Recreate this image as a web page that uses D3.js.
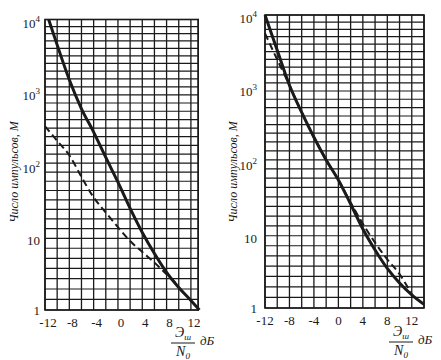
<!DOCTYPE html>
<html><head><meta charset="utf-8">
<script src="https://cdn.jsdelivr.net/npm/d3@7"></script>
<style>body{margin:0;background:#fff} svg{display:block}</style>
</head><body><svg id="c" width="441" height="360"></svg>
<script>
// ---- data ----
const xTicks = [-12, -8, -4, 0, 4, 8, 12];
const yTicks = [1, 10, 100, 1000, 10000];
const gridDb = [-12, -10, -8, -6, -4, -2, 0, 2, 4, 6, 8, 10, 12];

const leftSolidDb = [-11.4, -10, -8, -6, -4, -2, 0, 2, 4, 6, 8, 10, 12, 13.4];
const leftSolidN  = [10000, 4470, 1480, 590, 282, 126, 57.5, 25.1, 11.7, 6.0, 3.3, 2.04, 1.35, 1.0];
const leftDashDb  = [-12, -10, -8, -6, -4, -2, 0, 2, 4, 6, 8, 9.5];
const leftDashN   = [339, 214, 135, 68, 35.5, 22, 13.8, 8.9, 6.3, 4.5, 3.1, 2.35];

const rightSolidDb = [-12, -10, -8, -6, -4, -2, 0, 2, 4, 6, 8, 10, 12, 14];
const rightSolidN  = [10000, 3310, 1100, 468, 214, 105, 56, 26.3, 12.0, 6.2, 3.47, 2.19, 1.51, 1.12];
const rightDashDb  = [-12, -10, -8, -6, -4, -2, 0, 2, 4, 6, 8, 10, 11, 12];
const rightDashN   = [5620, 2450, 1100, 468, 214, 105, 56, 27.5, 14.1, 7.8, 4.6, 2.9, 2.14, 1.55];

const yTitle = "Число импульсов, М";
const xUnit = "дБ";
const gridRows = 33, gridGrowth = 1.5;

// ---- layout ----
const panels = [
  {xr:[45,198.2], xMax:13.2, yr:[310,19.5], solid:[leftSolidDb,leftSolidN], dash:[leftDashDb,leftDashN],
   lblGap:5, xLblDx:3, xLblY:327, titleX:14, fracX:183, fracY:343, unitX:200},
  {xr:[265,424], xMax:14, yr:[308,15], solid:[rightSolidDb,rightSolidN], dash:[rightDashDb,rightDashN],
   lblGap:8, xLblDx:0, xLblY:325, titleX:233, fracX:401, fracY:342, unitX:418}
];

const svg = d3.select("#c");
const ink = "#1a1a1a";
const serif = "'Liberation Serif','DejaVu Serif',serif";

panels.forEach(p => {
  const x = d3.scaleLinear().domain([-12, p.xMax]).range(p.xr);
  const y = d3.scaleLog().domain([1, 10000]).range(p.yr);
  const g = svg.append("g");
  const [xa, xb] = x.range(), [yb, ya] = y.range();

  // vertical grid
  g.selectAll("line.v").data(gridDb.concat([p.xMax])).join("line")
    .attr("x1", d => x(d)).attr("x2", d => x(d)).attr("y1", ya).attr("y2", yb)
    .attr("stroke", ink).attr("stroke-width", 1.3);
  // horizontal grid (spacing of the printed paper grows downward)
  const steps = d3.range(gridRows).map(k => 1 + (gridGrowth - 1) * k / (gridRows - 1));
  const tot = d3.sum(steps);
  let acc = 0; const fr = [0];
  steps.forEach(s => { acc += s; fr.push(acc / tot); });
  g.selectAll("line.h").data(fr).join("line")
    .attr("x1", xa).attr("x2", xb)
    .attr("y1", f => ya + f * (yb - ya)).attr("y2", f => ya + f * (yb - ya))
    .attr("stroke", ink).attr("stroke-width", 1.2);
  // border
  g.append("rect").attr("x", xa).attr("y", ya).attr("width", xb - xa).attr("height", yb - ya)
    .attr("fill", "none").attr("stroke", ink).attr("stroke-width", 1.6);

  const line = d3.line().x(d => x(d[0])).y(d => y(d[1])).curve(d3.curveMonotoneX);
  g.append("path").datum(d3.zip(p.dash[0], p.dash[1])).attr("d", line)
    .attr("fill", "none").attr("stroke", ink).attr("stroke-width", 2).attr("stroke-dasharray", "7,4");
  g.append("path").datum(d3.zip(p.solid[0], p.solid[1])).attr("d", line)
    .attr("fill", "none").attr("stroke", ink).attr("stroke-width", 3);

  // y tick labels
  yTicks.forEach(v => {
    const e = Math.round(Math.log10(v));
    const t = g.append("text").attr("x", xa - p.lblGap).attr("y", y(v) + (v === 1 ? 5 : 8))
      .attr("text-anchor", "end").attr("font-family", serif).attr("font-size", 13).attr("fill", ink);
    if (e === 0) t.text("1");
    else if (e === 1) t.text("10");
    else { t.append("tspan").text("10"); t.append("tspan").attr("dy", -6).attr("font-size", 9).text(e); }
  });
  // x tick labels
  g.selectAll("text.xt").data(xTicks).join("text")
    .attr("x", d => x(d) + p.xLblDx).attr("y", p.xLblY).attr("text-anchor", "middle")
    .attr("font-family", serif).attr("font-size", 13).attr("fill", ink).text(d => d);

  // y title
  g.append("text").attr("transform", `translate(${p.titleX},172) rotate(-90)`)
    .attr("text-anchor", "middle").attr("dominant-baseline", "central")
    .attr("font-family", serif).attr("font-style", "italic").attr("font-size", 12).attr("fill", ink)
    .text(yTitle);

  // x title: fraction Эш / N0  дБ
  const num = g.append("text").attr("x", p.fracX).attr("y", p.fracY - 6).attr("text-anchor", "middle")
    .attr("font-family", serif).attr("font-style", "italic").attr("font-size", 14).attr("fill", ink);
  num.append("tspan").text("Э");
  num.append("tspan").attr("dy", 3).attr("font-size", 9).text("ш");
  g.append("line").attr("x1", p.fracX - 12).attr("x2", p.fracX + 12).attr("y1", p.fracY).attr("y2", p.fracY)
    .attr("stroke", ink).attr("stroke-width", 1);
  const den = g.append("text").attr("x", p.fracX).attr("y", p.fracY + 13).attr("text-anchor", "middle")
    .attr("font-family", serif).attr("font-style", "italic").attr("font-size", 14).attr("fill", ink);
  den.append("tspan").text("N");
  den.append("tspan").attr("dy", 3).attr("font-size", 9).text("0");
  g.append("text").attr("x", p.unitX).attr("y", p.fracY + 2)
    .attr("font-family", serif).attr("font-style", "italic").attr("font-size", 13).attr("fill", ink)
    .text(xUnit);
});
</script></body></html>
